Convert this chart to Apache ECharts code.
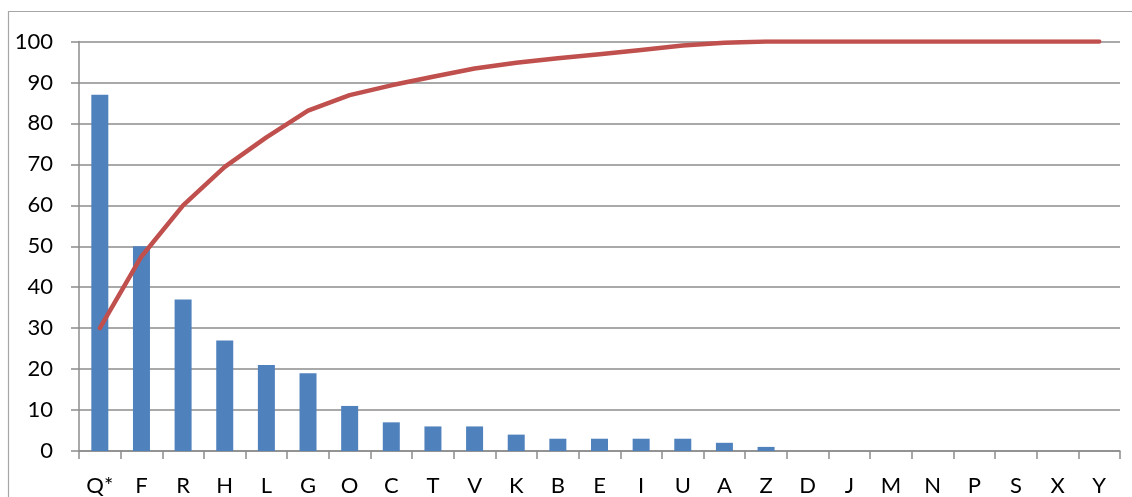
<!DOCTYPE html>
<html>
<head>
<meta charset="utf-8">
<script src="https://cdn.jsdelivr.net/npm/echarts@6/dist/echarts.min.js"></script>
<style>
  html, body { margin: 0; padding: 0; background: #ffffff; }
  #chart { width: 1132px; height: 497px; }
</style>
</head>
<body>
<div id="chart"></div>
<script>
// Categories, sorted by count (Pareto order)
const categories = ['Q*', 'F', 'R', 'H', 'L', 'G', 'O', 'C', 'T', 'V', 'K', 'B', 'E', 'I', 'U', 'A', 'Z', 'D', 'J', 'M', 'N', 'P', 'S', 'X', 'Y'];
// Count per category
const counts = [87, 50, 37, 27, 21, 19, 11, 7, 6, 6, 4, 3, 3, 3, 3, 2, 1, 0, 0, 0, 0, 0, 0, 0, 0];
// Cumulative percentage
const cumulative = [30, 47.5, 60, 69.4, 76.6, 83.1, 86.9, 89.3, 91.4, 93.4, 94.8, 95.9, 96.9, 97.9, 99, 99.7, 100, 100, 100, 100, 100, 100, 100, 100, 100];
// Value axis ticks
const yMin = 0, yMax = 100, yStep = 10;

const gridColor = '#8c8c8c';
const labelFont = { fontFamily: 'Lato, "Open Sans", sans-serif', fontSize: 22, color: '#000000' };

const chart = echarts.init(document.getElementById('chart'), null, { renderer: 'canvas' });
chart.setOption({
  animation: false,
  backgroundColor: '#ffffff',
  graphic: [{
    type: 'rect',
    shape: { x: 8.5, y: 11.5, width: 1140, height: 500 },
    style: { fill: 'none', stroke: '#a6a6a6', lineWidth: 1.2 },
    silent: true
  }],
  grid: { left: 79, right: 12, top: 41.5, bottom: 44.3, containLabel: false },
  xAxis: {
    type: 'category',
    data: categories,
    boundaryGap: true,
    axisLine: { show: true, lineStyle: { color: gridColor, width: 1.5 } },
    axisTick: { show: true, length: 8, alignWithLabel: false, lineStyle: { color: gridColor, width: 1.5 } },
    axisLabel: Object.assign({ margin: 24, interval: 0 }, labelFont),
    splitLine: { show: false }
  },
  yAxis: {
    type: 'value',
    min: yMin, max: yMax, interval: yStep,
    axisLine: { show: true, lineStyle: { color: gridColor, width: 1.5 } },
    axisTick: { show: true, length: 8, lineStyle: { color: gridColor, width: 1.5 } },
    axisLabel: Object.assign({ margin: 26 }, labelFont),
    splitLine: { show: true, lineStyle: { color: gridColor, width: 1.5 } }
  },
  series: [
    {
      type: 'bar',
      data: counts,
      barWidth: 17,
      itemStyle: { color: '#4F81BD' },
      z: 2
    },
    {
      type: 'line',
      data: cumulative,
      smooth: false,
      showSymbol: false,
      symbol: 'none',
      lineStyle: { color: '#C0504D', width: 4.5, cap: 'round', join: 'round' },
      z: 3
    }
  ]
});
</script>
</body>
</html>
